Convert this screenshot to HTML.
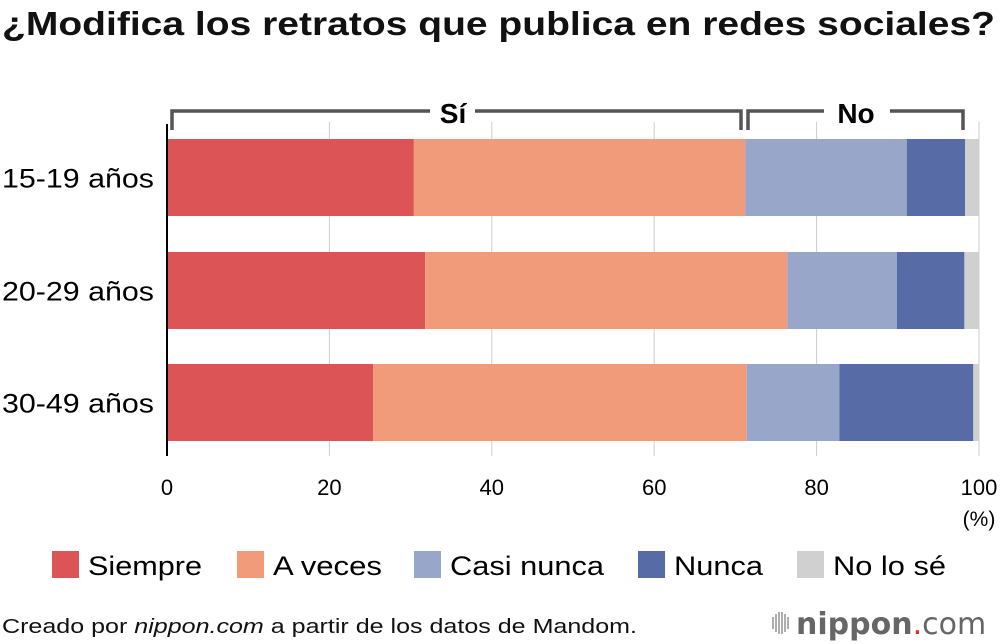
<!DOCTYPE html>
<html><head><meta charset="utf-8"><style>
body{margin:0;background:#fff;font-family:"Liberation Sans",Arial,sans-serif}
svg{display:block}
</style></head><body>
<svg id="c" width="1000" height="644" viewBox="0 0 1000 644" xmlns="http://www.w3.org/2000/svg">
<text x="2" y="35" font-size="33" font-weight="bold" fill="#111" textLength="993" lengthAdjust="spacingAndGlyphs">¿Modifica los retratos que publica en redes sociales?</text>
<g id="grid"></g>
<g id="bars"></g>
<g id="brackets" stroke="#555" stroke-width="3.5" fill="none">
<path d="M172 130 V111 H430 M475 111 H741 V130"/>
<path d="M748 130 V111 H824 M890 111 H963 V130"/>
</g>
<text x="453" y="123" font-size="28" font-weight="bold" text-anchor="middle">Sí</text>
<text x="856" y="123" font-size="28" font-weight="bold" text-anchor="middle">No</text>
<line x1="167" y1="124" x2="167" y2="456" stroke="#000" stroke-width="2"/>
<g id="xt"></g>
<text x="979" y="526" font-size="21" text-anchor="middle">(%)</text>
<g id="legend"></g>
<text x="2" y="633" font-size="20" fill="#111" textLength="635" lengthAdjust="spacingAndGlyphs">Creado por <tspan font-style="italic">nippon.com</tspan> a partir de los datos de Mandom.</text>
<g>
<g stroke="#999" stroke-width="1.6"><line x1="773" y1="617" x2="773" y2="629"/><line x1="776" y1="614" x2="776" y2="632"/><line x1="779" y1="612" x2="779" y2="634"/><line x1="782" y1="612" x2="782" y2="634"/><line x1="785" y1="614" x2="785" y2="632"/><line x1="788" y1="617" x2="788" y2="629"/></g>
<text x="796" y="634" font-size="30" fill="#666" font-family="DejaVu Sans, sans-serif"><tspan font-weight="bold">nippon</tspan><tspan fill="#e3242b">.</tspan><tspan font-weight="normal">com</tspan></text>
</g>
</svg>
<script>
const categories=["15-19 años","20-29 años","30-49 años"];
const seriesNames=["Siempre","A veces","Casi nunca","Nunca","No lo sé"];
const siempre=[30.4,31.8,25.4];
const aveces=[40.8,44.6,46.0];
const casiNunca=[19.9,13.5,11.4];
const nunca=[7.2,8.3,16.5];
const noLoSe=[1.7,1.8,0.7];
const ticks=[0,20,40,60,80,100];
const colors=["#dc5456","#f29b7a","#98a6c9","#576ba6","#d0d0d0"];
const NS="http://www.w3.org/2000/svg";
const x=v=>167+v*8.12;
const rowY=[139,252,364], barH=77;
function mk(t,a,p){const e=document.createElementNS(NS,t);for(const k in a)e.setAttribute(k,a[k]);p.appendChild(e);return e;}
const grid=document.getElementById('grid');
ticks.slice(1).forEach(t=>{const l=mk('line',{x1:x(t),x2:x(t),y1:122,y2:456,stroke:'#ccc','stroke-width':1},grid);

});
const xt=document.getElementById('xt');
ticks.forEach(t=>{const e=mk('text',{x:x(t),y:495,'font-size':22,'text-anchor':'middle'},xt);e.textContent=t;

});
const series=[siempre,aveces,casiNunca,nunca,noLoSe];
const bars=document.getElementById('bars');
categories.forEach((c,i)=>{let acc=0;
series.forEach((s,j)=>{const r=mk('rect',{x:x(acc),y:rowY[i],width:s[i]*8.12,height:barH,fill:colors[j]},bars);

acc+=s[i];});
const t=mk('text',{x:2,y:rowY[i]+barH/2+10,'font-size':27,textLength:152,lengthAdjust:'spacingAndGlyphs'},bars);t.textContent=c;

});
const lg=document.getElementById('legend');
const lx=[52,237,414,638,797];
const lw=[114,109,154,89,113];
seriesNames.forEach((n,j)=>{const g=mk('g',{},lg);


mk('rect',{x:lx[j],y:551,width:27,height:27,fill:colors[j]},g);
const t=mk('text',{x:lx[j]+36,y:575,'font-size':27,textLength:lw[j],lengthAdjust:'spacingAndGlyphs'},g);t.textContent=n;});
</script>
</body></html>
